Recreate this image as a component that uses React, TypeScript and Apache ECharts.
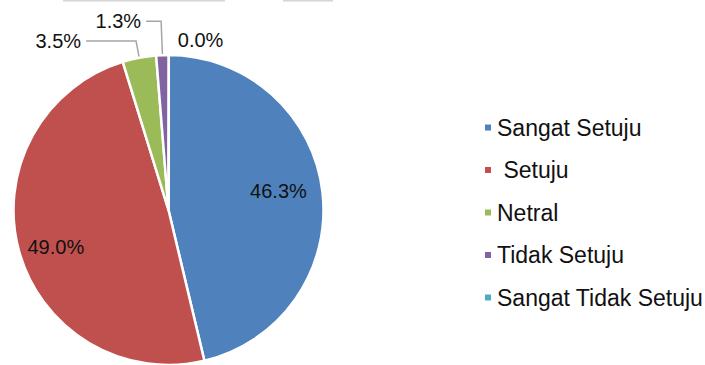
import React, { useEffect, useRef } from "react";
import * as echarts from "echarts";

const categories = ["Sangat Setuju", " Setuju", "Netral", "Tidak Setuju", "Sangat Tidak Setuju"];
const percentages = [46.3, 49.0, 3.5, 1.3, 0.0];
const sliceColors = ["#4F81BD", "#C0504D", "#9BBB59", "#8064A2", "#4BACC6"];

// label styling per slice (inside vs outside with leader lines)
const labelInside = [true, true, false, false, false];
const insideOffsets: [number, number][] = [[30, -10], [-35, 16], [0, 0], [0, 0], [0, 0]];
const lineLen1 = [0, 0, 17, 34, 15];
const lineLen2 = [0, 0, 50, 15, 4];
const lineVisible = [false, false, true, true, false];

export default function App() {
  const ref = useRef<HTMLDivElement>(null);
  useEffect(() => {
    if (!ref.current) return;
    const chart = echarts.init(ref.current, undefined, { renderer: "svg" });
    const font = "'Liberation Sans', Arial, sans-serif";
    const data = categories.map((name, i) => ({
      name,
      value: percentages[i],
      itemStyle: { color: sliceColors[i] },
      label: labelInside[i]
        ? { position: "inside" as const }
        : { position: "outside" as const },
      labelLine: {
        show: lineVisible[i],
        length: lineLen1[i],
        length2: lineLen2[i],
      },
    }));
    chart.setOption({
      animation: false,
      backgroundColor: "#ffffff",
      graphic: [
        { type: "rect", shape: { x: 63, y: 0, width: 162, height: 1.5 }, style: { fill: "#d6d6d6" } },
        { type: "rect", shape: { x: 283, y: 0, width: 50, height: 1.5 }, style: { fill: "#d6d6d6" } },
      ],
      legend: {
        orient: "vertical",
        left: 483,
        top: 116,
        padding: 0,
        itemWidth: 8,
        itemHeight: 8,
        itemGap: 19.5,
        icon: "rect",
        data: categories,
        textStyle: { fontFamily: font, fontSize: 23, color: "#111", lineHeight: 22 },
      },
      series: [
        {
          type: "pie",
          center: [168.5, 210],
          radius: 155,
          startAngle: 89.9,
          clockwise: true,
          avoidLabelOverlap: false,
          itemStyle: { borderColor: "#ffffff", borderWidth: 2.5 },
          label: {
            fontFamily: font,
            fontSize: 20,
            color: "#111",
            formatter: (p: any) => p.value.toFixed(1) + "%",
            distanceToLabelLine: 5,
          },
          labelLine: {
            lineStyle: { color: "#a6a6a6", width: 1.5 },
          },
          labelLayout: (p: any) => {
            const o = insideOffsets[p.dataIndex];
            if (labelInside[p.dataIndex]) return { dx: o[0], dy: o[1] };
            return {};
          },
          data,
        },
      ],
    });
    return () => chart.dispose();
  }, []);
  return (
    <div
      ref={ref}
      style={{ position: "fixed", left: 0, top: 0, width: 705, height: 365 }}
    />
  );
}
